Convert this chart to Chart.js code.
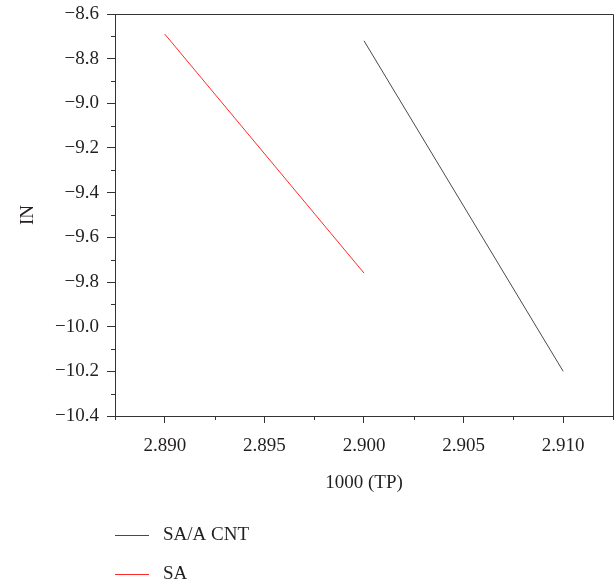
<!DOCTYPE html>
<html>
<head>
<meta charset="utf-8">
<script src="https://cdn.jsdelivr.net/npm/chart.js@4.4.0/dist/chart.umd.min.js"></script>
<style>
  html, body { margin: 0; padding: 0; background: #fff; }
</style>
</head>
<body>
<canvas id="chart" width="616" height="586"></canvas>
<script>
// series data
var seriesNames = ['SA/A CNT', 'SA'];
var seriesColors = ['#4a4a4a', '#ff2a2a'];
var xCnt = [2.900, 2.910];
var yCnt = [-8.72, -10.20];
var xSa = [2.890, 2.900];
var ySa = [-8.69, -9.76];

// axis ticks
var xTicks = [2.890, 2.895, 2.900, 2.905, 2.910];
var xMinorTicks = [2.8875, 2.8925, 2.8975, 2.9025, 2.9075, 2.9125];
var yTicks = [-10.4, -10.2, -10.0, -9.8, -9.6, -9.4, -9.2, -9.0, -8.8, -8.6];
var yMinorTicks = [-10.3, -10.1, -9.9, -9.7, -9.5, -9.3, -9.1, -8.9, -8.7];

var axisColor = '#333333';
var fontFamily = '"Liberation Serif", "DejaVu Serif", serif';

function toPoints(xs, ys) {
    return xs.map(function(x, i) { return { x: x, y: ys[i] }; });
}

// minor ticks + top/right frame
var framePlugin = {
    id: 'frame',
    afterDraw: function(chart) {
        var ctx = chart.ctx;
        var a = chart.chartArea;
        var xs = chart.scales.x, ys = chart.scales.y;
        ctx.save();
        ctx.strokeStyle = axisColor;
        ctx.lineWidth = 1;
        ctx.beginPath();
        ctx.moveTo(a.left, a.top + 0.5);
        ctx.lineTo(a.right + 0.5, a.top + 0.5);
        ctx.lineTo(a.right + 0.5, a.bottom);
        xMinorTicks.forEach(function(v) {
            var px = Math.round(xs.getPixelForValue(v)) + 0.5;
            ctx.moveTo(px, a.bottom);
            ctx.lineTo(px, a.bottom + 4);
        });
        yMinorTicks.forEach(function(v) {
            var py = Math.round(ys.getPixelForValue(v)) + 0.5;
            ctx.moveTo(a.left, py);
            ctx.lineTo(a.left - 4, py);
        });
        ctx.stroke();
        ctx.restore();
    }
};

// legend stacked under the x axis title
var legendPlugin = {
    id: 'stackedLegend',
    afterDraw: function(chart) {
        var ctx = chart.ctx;
        var left = chart.chartArea.left;
        ctx.save();
        ctx.font = '19px ' + fontFamily;
        ctx.textBaseline = 'middle';
        chart.data.datasets.forEach(function(ds, i) {
            var y = 535 + i * 39;
            ctx.strokeStyle = ds.borderColor;
            ctx.lineWidth = 1;
            ctx.beginPath();
            ctx.moveTo(left, y + 0.5);
            ctx.lineTo(left + 34, y + 0.5);
            ctx.stroke();
            ctx.fillStyle = '#231f20';
            ctx.fillText(ds.label, left + 48, y);
        });
        ctx.restore();
    }
};

var ctx = document.getElementById('chart').getContext('2d');
var myChart = new Chart(ctx, {
    type: 'line',
    data: {
        datasets: [{
            label: seriesNames[0],
            data: toPoints(xCnt, yCnt),
            borderColor: seriesColors[0],
            borderWidth: 1,
            pointRadius: 0,
            fill: false
        }, {
            label: seriesNames[1],
            data: toPoints(xSa, ySa),
            borderColor: seriesColors[1],
            borderWidth: 1,
            pointRadius: 0,
            fill: false
        }]
    },
    options: {
        responsive: false,
        animation: false,
        layout: { padding: { left: 0, right: 3, top: 14, bottom: 92 } },
        plugins: {
            legend: { display: false },
            tooltip: { enabled: false }
        },
        scales: {
            x: {
                type: 'linear',
                min: 2.8875,
                max: 2.9125,
                afterBuildTicks: function(scale) {
                    scale.ticks = xTicks.map(function(v) { return { value: v }; });
                },
                afterFit: function(scale) {
                    scale.height = 78;
                    scale.paddingLeft = 0;
                    scale.paddingRight = 0;
                },
                grid: { drawOnChartArea: false, tickLength: 7, color: axisColor, tickColor: axisColor },
                border: { color: axisColor, width: 1 },
                ticks: {
                    autoSkip: false,
                    maxRotation: 0,
                    padding: 12,
                    color: '#231f20',
                    font: { family: fontFamily, size: 19 },
                    callback: function(v) { return Number(v).toFixed(3); }
                },
                title: {
                    display: true,
                    text: '1000 (TP)',
                    color: '#231f20',
                    padding: 0,
                    font: { family: fontFamily, size: 19 }
                }
            },
            y: {
                type: 'linear',
                min: -10.4,
                max: -8.6,
                afterBuildTicks: function(scale) {
                    scale.ticks = yTicks.map(function(v) { return { value: v }; });
                },
                afterFit: function(scale) {
                    scale.width = 115;
                    scale.paddingTop = 0;
                    scale.paddingBottom = 0;
                },
                grid: { drawOnChartArea: false, tickLength: 8, color: axisColor, tickColor: axisColor },
                border: { color: axisColor, width: 1 },
                ticks: {
                    autoSkip: false,
                    padding: 8,
                    color: '#231f20',
                    font: { family: fontFamily, size: 19 },
                    callback: function(v) {
                        return (v < 0 ? '\u2212' : '') + Math.abs(v).toFixed(1);
                    }
                },
                title: {
                    display: true,
                    text: 'IN',
                    color: '#231f20',
                    padding: { top: 17, bottom: 0 },
                    font: { family: fontFamily, size: 19 }
                }
            }
        }
    },
    plugins: [framePlugin, legendPlugin]
});
</script>
</body>
</html>
